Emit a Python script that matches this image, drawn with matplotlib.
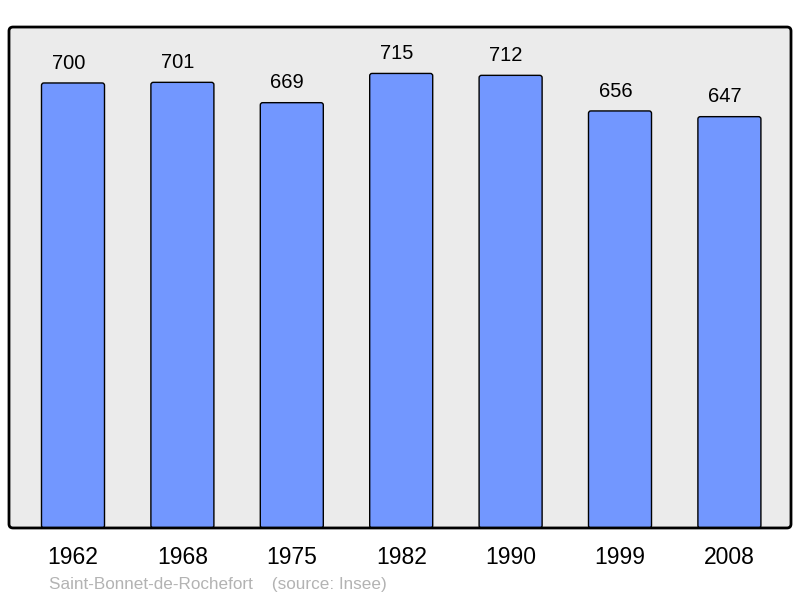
import matplotlib
matplotlib.use("Agg")
import matplotlib.pyplot as plt
from matplotlib.patches import FancyBboxPatch

years = ["1962", "1968", "1975", "1982", "1990", "1999", "2008"]
population = [700, 701, 669, 715, 712, 656, 647]

plt.rcParams['font.family'] = ['Liberation Sans', 'DejaVu Sans']

fig = plt.figure(figsize=(8, 5.98), dpi=100)
L, B, W, H = 0.01125, 0.1171, 0.9775, 0.8377
ax = fig.add_axes([L, B, W, H])
ax.patch.set_visible(False)

# rounded background frame (drawn below the axes)
frame = FancyBboxPatch((L, B), W, H, boxstyle="round,pad=0,rounding_size=0.005",
                       mutation_aspect=800/598, transform=fig.transFigure,
                       facecolor='#ebebeb', edgecolor='none', zorder=-1)
fig.patches.append(frame)

ax.set_xlim(-0.585, 6.563)
ax.set_ylim(0, 788)

x = list(range(len(years)))
bars = ax.bar(x, population, width=0.576, color='#7297ff', edgecolor='black', linewidth=1.0, zorder=2)
# replace plain rectangles with slightly rounded ones
for r in bars:
    r.set_visible(False)
    fb = FancyBboxPatch((r.get_x(), r.get_y()), r.get_width(), r.get_height(),
                        boxstyle="round,pad=0,rounding_size=0.022",
                        mutation_aspect=172, facecolor='#7297ff',
                        edgecolor='black', linewidth=1.0, zorder=2)
    ax.add_patch(fb)

for xi, v in zip(x, population):
    ax.annotate(str(v), (xi, v), xytext=(-3.3, 7.5), textcoords='offset points',
                ha='center', va='bottom', fontsize=14.5, color='black')

ax.set_xticks(x)
ax.set_xticklabels(years, fontsize=16.5)
ax.tick_params(axis='x', length=0, pad=13)
ax.set_yticks([])
for s in ax.spines.values():
    s.set_visible(False)

border = FancyBboxPatch((L, B), W, H, boxstyle="round,pad=0,rounding_size=0.005",
                        mutation_aspect=800/598, transform=fig.transFigure,
                        facecolor='none', edgecolor='black', linewidth=2, zorder=5)
fig.patches.append(border)

fig.text(49/800, 1 - 585/598, "Saint-Bonnet-de-Rochefort    (source: Insee)",
         fontsize=12.3, color='#b3b3b3', ha='left', va='center')

fig.savefig("out.png", dpi=100)
